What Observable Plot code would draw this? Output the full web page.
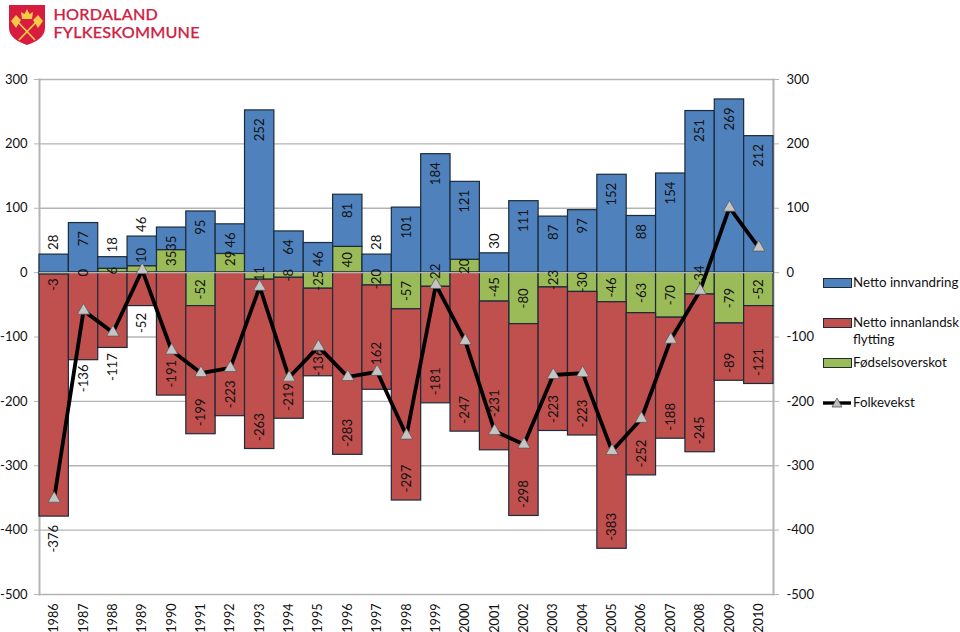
<!DOCTYPE html>
<html>
<head>
<meta charset="utf-8">
<script src="https://cdn.jsdelivr.net/npm/d3@7"></script>
<script src="https://cdn.jsdelivr.net/npm/@observablehq/plot@0.6"></script>
<style>
html,body{margin:0;padding:0;background:#fff;}
#wrap{position:relative;width:960px;height:632px;overflow:hidden;font-family:Lato,sans-serif;}
#chart svg{display:block;}
.logo-text{position:absolute;left:53.5px;color:#cf2141;font-family:Lato,sans-serif;font-weight:500;font-size:16.2px;line-height:18px;white-space:nowrap;-webkit-text-stroke:.25px #cf2141;}
.lg{position:absolute;left:853px;font-size:13.3px;line-height:17px;color:#111;white-space:nowrap;}
.sw{position:absolute;left:823px;width:27px;height:8px;border:1px solid #1c2b3a;}
</style>
</head>
<body>
<div id="wrap">
  <div id="chart"></div>
  <svg style="position:absolute;left:9px;top:4px" width="36" height="42" viewBox="0 0 36 42">
    <path d="M0 1H36V24C36 33 27 38 18 41C9 38 0 33 0 24Z" fill="#d81c3f"/>
    <g stroke="#f7c948" stroke-width="1.8" fill="none"><path d="M6 15L26 36M30 15L10 36"/></g>
    <path d="M2 17L7 11L12 16L7 24ZM34 17L29 11L24 16L29 24Z" fill="#f7c948"/>
    <path d="M13 15L12 8L15.5 10L18 5L20.5 10L24 8L23 15Z" fill="#f7c948"/>
  </svg>
  <div class="logo-text" style="top:5px;letter-spacing:.2px">HORDALAND</div>
  <div class="logo-text" style="top:22.5px;letter-spacing:.2px">FYLKESKOMMUNE</div>
  <div class="sw" style="top:278px;background:#4f81bd"></div>
  <div class="lg" style="top:274px">Netto innvandring</div>
  <div class="sw" style="top:318px;background:#c0504d"></div>
  <div class="lg" style="top:314px">Netto innanlandsk<br>flytting</div>
  <div class="sw" style="top:358px;background:#9bbb59"></div>
  <div class="lg" style="top:354px">Fødselsoverskot</div>
  <svg style="position:absolute;left:822px;top:396px" width="30" height="14">
    <path d="M1 7H29" stroke="#000" stroke-width="3.4"/>
    <path d="M15 2L20 11H10Z" fill="#bfbfbf" stroke="#444" stroke-width=".7"/>
  </svg>
  <div class="lg" style="top:394px">Folkevekst</div>
</div>
<script>
const years = [1986,1987,1988,1989,1990,1991,1992,1993,1994,1995,1996,1997,1998,1999,2000,2001,2002,2003,2004,2005,2006,2007,2008,2009,2010].map(String);
const nettoInnvandring = [28,77,18,46,35,95,46,252,64,46,81,28,101,184,121,30,111,87,97,152,88,154,251,269,212];
const nettoInnanlandsk = [-376,-136,-117,-52,-191,-199,-223,-263,-219,-136,-283,-162,-297,-181,-247,-231,-298,-223,-223,-383,-252,-188,-245,-89,-121];
const fodselsoverskot = [-3,0,6,10,35,-52,29,-11,-8,-25,40,-20,-57,-22,20,-45,-80,-23,-30,-46,-63,-70,-34,-79,-52];
const folkevekst = [-351,-59,-93,4,-121,-156,-148,-22,-163,-115,-162,-154,-253,-19,-106,-246,-267,-159,-156,-277,-227,-104,-28,101,39];
const yTicks = [-500,-400,-300,-200,-100,0,100,200,300];

const seriesNames = ["Fødselsoverskot","Netto innvandring","Netto innanlandsk flytting"];
const seriesColors = ["#9bbb59","#4f81bd","#c0504d"];

// Label placement rules (screen px), with the hand-moved labels of the original listed as exceptions
const W = 960, H = 632, mL = 39, mR = 187, mT = 79, mB = 38;
const pxPerUnit = (H - mT - mB) / 800;
const outsideBlue = new Set(["1986","1988","1989","1997","2001"]);
const outsideRed = {"1986":36,"1987":32,"1988":33,"1989":27};
const redShift = {"1995":8,"1997":-12,"2001":-25};
const greenShift = {"1986":11,"1989":-14,"1990":-3,"1992":-5,"1999":-6,"2008":-8};

const rows = [
  ...years.map((year,i)=>({year,series:seriesNames[0],value:fodselsoverskot[i]})),
  ...years.map((year,i)=>({year,series:seriesNames[1],value:nettoInnvandring[i]})),
  ...years.map((year,i)=>({year,series:seriesNames[2],value:nettoInnanlandsk[i]}))
];
const blueLabels = years.map((year,i)=>{
  const top = Math.max(fodselsoverskot[i],0) + nettoInnvandring[i];
  const px = outsideBlue.has(year) ? 20 : -8;
  return {year, y: top + px/pxPerUnit, text:String(nettoInnvandring[i])};
});
const redLabels = years.map((year,i)=>{
  const bottom = Math.min(fodselsoverskot[i],0) + nettoInnanlandsk[i];
  const px = outsideRed[year] ?? (-8 + (redShift[year] ?? 0));
  return {year, y: bottom - px/pxPerUnit, text:String(nettoInnanlandsk[i])};
});
const greenLabels = years.map((year,i)=>({
  year, y: fodselsoverskot[i]/2 - (greenShift[year] ?? 0)/pxPerUnit, text:String(fodselsoverskot[i])
}));
const lineRows = years.map((year,i)=>({year,value:folkevekst[i]}));

const labelStyle = {x:"year", y:"y", text:"text", rotate:-90, fontSize:13.2, fill:"#111", fontFamily:"Lato"};
const grey = "#b4b4b4";

const chart = Plot.plot({
  width:W, height:H, marginLeft:mL, marginRight:mR, marginTop:mT, marginBottom:mB,
  style:{fontFamily:"Lato", background:"#fff", overflow:"visible"},
  x:{domain:years, padding:0, round:false, label:null},
  y:{domain:[-500,300], label:null},
  color:{domain:seriesNames, range:seriesColors},
  marks:[
    Plot.ruleY(yTicks,{stroke:grey,strokeWidth:1.4}),
    Plot.frame({anchor:"left",stroke:grey,strokeWidth:2}),
    Plot.frame({anchor:"right",stroke:grey,strokeWidth:2}),
    Plot.axisY({anchor:"left",ticks:yTicks,tickFormat:d=>String(d),tickSize:5,tickPadding:7,stroke:grey,fill:"#111",fontSize:13,label:null}),
    Plot.axisY({anchor:"right",ticks:yTicks,tickFormat:d=>String(d),tickSize:5,tickPadding:8,stroke:grey,fill:"#111",fontSize:13,label:null}),
    Plot.axisX({ticks:years,tickRotate:-90,tickSize:0,tickPadding:9,fill:"#111",fontSize:12.6,label:null}),
    Plot.barY(rows,Plot.stackY({x:"year",y:"value",fill:"series",order:seriesNames,stroke:"#1c2b3a",strokeWidth:1.2})),
    Plot.ruleY([0],{stroke:grey,strokeWidth:1.4}),
    Plot.text(greenLabels,{...labelStyle}),
    Plot.text(blueLabels,{...labelStyle,textAnchor:"end"}),
    Plot.text(redLabels,{...labelStyle,textAnchor:"start"}),
    Plot.line(lineRows,{x:"year",y:"value",stroke:"#000",strokeWidth:3.8,strokeLinejoin:"miter"}),
    Plot.dot(lineRows,{x:"year",y:"value",symbol:"triangle",r:4.6,fill:"#c4c4c4",stroke:"#555",strokeWidth:.7})
  ]
});
document.getElementById("chart").appendChild(chart);
</script>
</body>
</html>
